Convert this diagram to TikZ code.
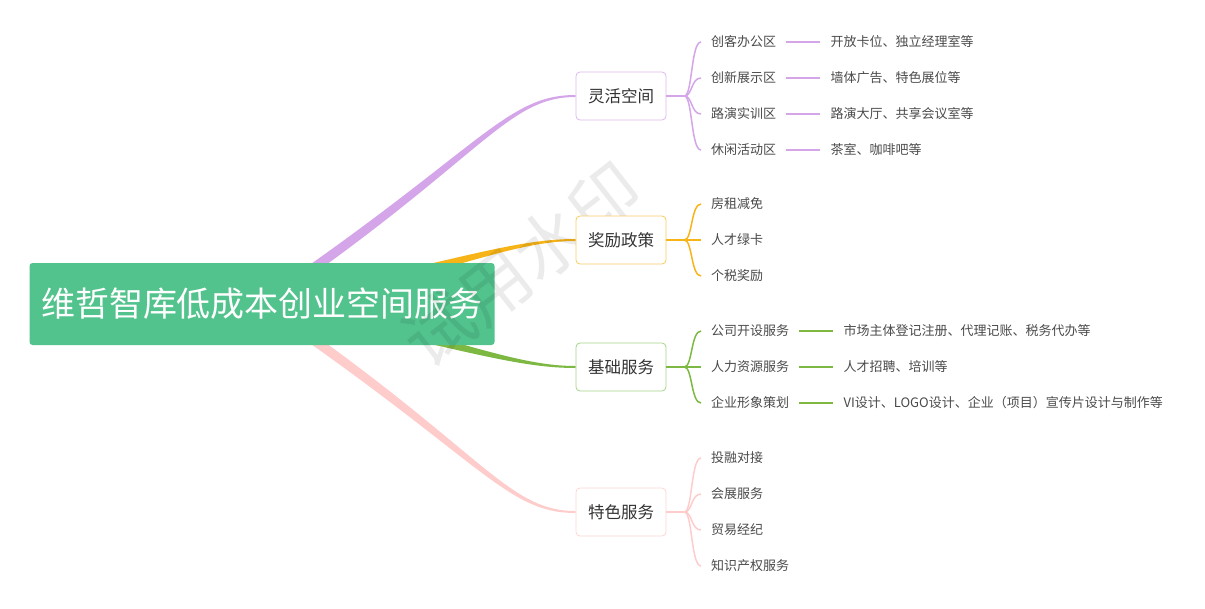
\documentclass[tikz,border=0pt]{standalone}
\usepackage{fontspec}
\setmainfont{Noto Sans CJK SC}
\usepackage{tikz}
\usetikzlibrary{positioning,calc,backgrounds}

\definecolor{rootgreen}{HTML}{52C38C}
\definecolor{purpline}{HTML}{D4A6E9}
\definecolor{purpbox}{HTML}{DDB9EE}
\definecolor{orgline}{HTML}{F6B418}
\definecolor{orgbox}{HTML}{F8CB62}
\definecolor{grnline}{HTML}{7DB843}
\definecolor{grnbox}{HTML}{A6D488}
\definecolor{pnkline}{HTML}{FFCCCC}
\definecolor{pnkbox}{HTML}{FFD6D6}
\definecolor{txtgray}{HTML}{4A4A4A}

\tikzset{
  rootbox/.style={fill=rootgreen, rounded corners=3pt, text=white, minimum width=465pt, minimum height=82pt, font=\fontsize{34}{40}\selectfont},
  topic/.style={fill=white, rounded corners=4pt, line width=0.8pt, minimum width=90pt, minimum height=48pt, text=black!80, font=\fontsize{16.5}{20}\selectfont},
  sub/.style={anchor=west, inner xsep=10pt, inner ysep=2pt, text=txtgray, font=\fontsize{13}{15}\selectfont},
  twig/.style={line width=1.5pt},
}

% tapered main branch: colour, target node, first control vector
\newcommand{\mmbranch}[3]{%
  \fill[#1] ([yshift=6pt]root.center) .. controls +(#3) and +(-70,0) .. ([yshift=1pt]#2.west)
    -- ([yshift=-1pt]#2.west) .. controls +(-70,0) and +(#3) .. ([yshift=-6pt]root.center) -- cycle;}

\begin{document}
\begin{tikzpicture}[x=1pt,y=-1pt]
\useasboundingbox (0,0) rectangle (1205,608);

\node[rootbox] (root) at (262,304) {维哲智库低成本创业空间服务};
\node[rotate=38, text=black, opacity=0.08, font=\fontsize{70}{70}\selectfont] (wm) at (522,265) {试用水印};

\node[topic, draw=purpbox] (kj) at (621,96) {灵活空间};
\node[topic, draw=orgbox] (jl) at (621,240) {奖励政策};
\node[topic, draw=grnbox] (jc) at (621,367) {基础服务};
\node[topic, draw=pnkbox] (ts) at (621,512) {特色服务};

\begin{scope}[on background layer]
\mmbranch{purpline}{kj}{220,-150}
\mmbranch{orgline}{jl}{175,-30}
\mmbranch{grnline}{jc}{175,30}
\mmbranch{pnkline}{ts}{220,150}
\end{scope}

% 灵活空间
\node[sub] (kj1) at (701,42) {创客办公区};
\node[sub] (kj2) at (701,78) {创新展示区};
\node[sub] (kj3) at (701,114) {路演实训区};
\node[sub] (kj4) at (701,150) {休闲活动区};
\node[sub, right=34pt of kj1] (kj1a) {开放卡位、独立经理室等};
\node[sub, right=34pt of kj2] (kj2a) {墙体广告、特色展位等};
\node[sub, right=34pt of kj3] (kj3a) {路演大厅、共享会议室等};
\node[sub, right=34pt of kj4] (kj4a) {茶室、咖啡吧等};
\coordinate (kjj) at ($(kj.east)+(18,0)$);
\draw[twig, purpline] (kj.east) -- (kjj);
\draw[twig, purpline] (kjj) .. controls +(8,0) and +(-10,0) .. (kj1.west);
\draw[twig, purpline] (kjj) .. controls +(8,0) and +(-10,0) .. (kj2.west);
\draw[twig, purpline] (kjj) .. controls +(8,0) and +(-10,0) .. (kj3.west);
\draw[twig, purpline] (kjj) .. controls +(8,0) and +(-10,0) .. (kj4.west);
\draw[twig, purpline] (kj1) -- (kj1a);
\draw[twig, purpline] (kj2) -- (kj2a);
\draw[twig, purpline] (kj3) -- (kj3a);
\draw[twig, purpline] (kj4) -- (kj4a);

% 奖励政策
\node[sub] (jl1) at (701,204) {房租减免};
\node[sub] (jl2) at (701,240) {人才绿卡};
\node[sub] (jl3) at (701,276) {个税奖励};
\coordinate (jlj) at ($(jl.east)+(18,0)$);
\draw[twig, orgline] (jl.east) -- (jlj);
\draw[twig, orgline] (jlj) .. controls +(8,0) and +(-10,0) .. (jl1.west);
\draw[twig, orgline] (jlj) -- (jl2.west);
\draw[twig, orgline] (jlj) .. controls +(8,0) and +(-10,0) .. (jl3.west);

% 基础服务
\node[sub] (jc1) at (701,331) {公司开设服务};
\node[sub] (jc2) at (701,367) {人力资源服务};
\node[sub] (jc3) at (701,403) {企业形象策划};
\node[sub, right=34pt of jc1] (jc1a) {市场主体登记注册、代理记账、税务代办等};
\node[sub, right=34pt of jc2] (jc2a) {人才招聘、培训等};
\node[sub, right=34pt of jc3] (jc3a) {VI设计、LOGO设计、企业（项目）宣传片设计与制作等};
\coordinate (jcj) at ($(jc.east)+(18,0)$);
\draw[twig, grnline] (jc.east) -- (jcj);
\draw[twig, grnline] (jcj) .. controls +(8,0) and +(-10,0) .. (jc1.west);
\draw[twig, grnline] (jcj) -- (jc2.west);
\draw[twig, grnline] (jcj) .. controls +(8,0) and +(-10,0) .. (jc3.west);
\draw[twig, grnline] (jc1) -- (jc1a);
\draw[twig, grnline] (jc2) -- (jc2a);
\draw[twig, grnline] (jc3) -- (jc3a);

% 特色服务
\node[sub] (ts1) at (701,458) {投融对接};
\node[sub] (ts2) at (701,494) {会展服务};
\node[sub] (ts3) at (701,530) {贸易经纪};
\node[sub] (ts4) at (701,566) {知识产权服务};
\coordinate (tsj) at ($(ts.east)+(18,0)$);
\draw[twig, pnkline] (ts.east) -- (tsj);
\draw[twig, pnkline] (tsj) .. controls +(8,0) and +(-10,0) .. (ts1.west);
\draw[twig, pnkline] (tsj) .. controls +(8,0) and +(-10,0) .. (ts2.west);
\draw[twig, pnkline] (tsj) .. controls +(8,0) and +(-10,0) .. (ts3.west);
\draw[twig, pnkline] (tsj) .. controls +(8,0) and +(-10,0) .. (ts4.west);
\end{tikzpicture}
\end{document}
